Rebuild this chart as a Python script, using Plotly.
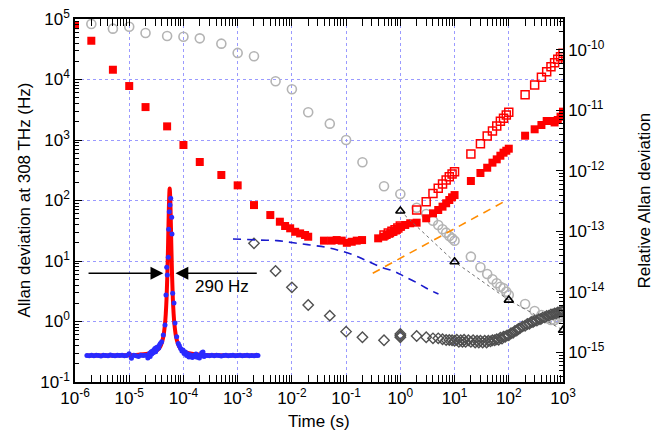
import plotly.graph_objects as go

# ---------------- data ----------------
# Gray open circles (Hz)
gray_tau = [2e-6, 5e-6, 1e-5, 2e-5, 5e-5, 1e-4, 2e-4, 5e-4, 1e-3, 2e-3, 5e-3, 1e-2, 2e-2, 5e-2,
            0.1, 0.2, 0.5, 1, 2, 3, 4, 5, 6, 7, 8, 9, 10,
            20, 30, 40, 50, 60, 70, 80, 90, 100,
            200, 300, 400, 500, 600, 700, 800, 900, 1000]
gray_val = [82600, 69200, 74600, 58700, 52400, 50900, 47900, 39100, 27500, 24200, 9330, 6890, 2870, 1862,
            1000, 428, 172, 128, 76, 59.8, 46.4, 39.4, 33.4, 29.4, 25.9, 23.7, 21.7,
            11.8, 7.87, 6.1, 4.98, 4.28, 3.76, 3.54, 3.11, 2.74,
            1.95, 1.49, 1.28, 1.13, 1.06, 1.06, 1.13, 1.2, 1.25]

# Red filled squares (Hz)
red_fill_tau = [1e-6, 2e-6, 5e-6, 1e-5, 2e-5, 5e-5, 1e-4, 2e-4, 5e-4, 1e-3, 2e-3,
                0.004, 0.006, 0.0075, 0.0093, 0.0115, 0.0142, 0.0175, 0.020,
                0.039, 0.054, 0.067, 0.083, 0.103, 0.127, 0.157, 0.197,
                0.39, 0.49, 0.56, 0.65, 0.75, 0.86, 1.0, 1.23, 1.52,
                2, 3, 4, 5, 6, 7, 8, 9, 10,
                20, 30, 40, 50, 60, 70, 80, 90, 100,
                200, 300, 400, 500, 600, 700, 800, 900, 1000]
red_fill_val = [79000, 43700, 14500, 7800, 3500, 1680, 826, 433, 264, 178, 84,
                57.5, 44.6, 37.9, 34.7, 30.4, 28.6, 26.9, 25.2,
                21.7, 21.7, 22.2, 21.7, 20.0, 20.8, 21.7, 22.2,
                23.7, 25.2, 26.9, 28.7, 30.5, 32.5, 36.9, 39.4, 42,
                43, 50.8, 61.4, 69.7, 79.1, 90, 102, 113, 123,
                210, 285, 348, 422, 479, 550, 617, 665, 718,
                1178, 1503, 1770, 2060, 2060, 1950, 2140, 2430, 2940]

# Red open squares (Hz)
red_open_tau = [0.5, 0.6, 0.7, 0.8, 0.9, 1.0,
                2, 3, 4, 5, 6, 7, 8, 9, 10,
                20, 30, 40, 50, 60, 70, 80, 90, 100,
                200, 300, 400, 500, 600, 700, 800, 900, 1000]
red_open_val = [27, 29, 31, 33, 35, 38,
                69.7, 95.5, 131, 159, 188, 218, 247, 274, 299,
                587, 871, 1164, 1409, 1702, 2037, 2286, 2590, 2870,
                5610, 8110, 10870, 13490, 16290, 18970, 21600, 23800, 27100]

# Dark gray open diamonds (Hz)
dia_tau = [2e-3, 5e-3, 1e-2, 2e-2, 5e-2, 0.1, 0.2, 0.5, 1, 1, 1,
           2, 3, 4, 5, 6, 7, 8, 9,
           10, 11, 12, 13, 14, 15, 16, 18, 20, 22, 24, 26, 28, 30, 33, 36, 39, 42, 46, 50,
           55, 60, 65, 70, 75, 80, 86, 93, 100, 110, 120, 130, 140, 150, 160, 180, 200, 220, 240, 260,
           280, 300, 330, 360, 390, 420, 460, 500, 550, 600, 650, 700, 750, 800, 860, 930, 1000]
dia_val = [19.6, 6.84, 3.67, 1.87, 1.25, 0.68, 0.55, 0.49, 0.62, 0.58, 0.55,
           0.575, 0.548, 0.527, 0.527, 0.508, 0.494, 0.494, 0.49,
           0.48, 0.50, 0.46, 0.49, 0.46, 0.50, 0.46, 0.49, 0.46, 0.49, 0.45, 0.48, 0.45, 0.48, 0.45, 0.48, 0.45, 0.48, 0.47, 0.49,
           0.49, 0.51, 0.50, 0.54, 0.52, 0.56, 0.56, 0.59, 0.59, 0.64, 0.65, 0.70, 0.71, 0.75, 0.77, 0.83, 0.85, 0.91, 0.92, 0.98,
           0.98, 1.03, 1.04, 1.09, 1.10, 1.16, 1.17, 1.23, 1.25, 1.31, 1.31, 1.36, 1.36, 1.41, 1.42, 1.47, 1.49]

# Black open triangles joined by dotted line (Hz)
tri_tau = [1, 10, 100, 1000]
tri_val = [67, 9.7, 2.26, 0.72]

# Blue dashed curve (Hz)
bd_tau = [8.2e-4, 2.6e-3, 5.3e-3, 0.0107, 0.0217, 0.044, 0.0774, 0.136, 0.224, 0.424, 0.80, 1.14, 2.01, 3.30, 5.05]
bd_val = [23.1, 22.2, 21.7, 20.0, 18.4, 16.8, 14.8, 12.6, 10.4, 8.05, 6.65, 5.65, 4.38, 3.40, 2.85]

# Orange dashed line (Hz)
or_tau = [0.31, 86]
or_val = [6.27, 98]

# Inset: beat-note spectrum (offset frequency in Hz, amplitude arb. units)
blue_f = [-5300, -5150, -5000, -4850, -4700, -4550, -4400, -4250, -4100, -3950, -3800, -3650, -3500,
          -3350, -3200, -3050, -2900, -2750, -2600, -2450, -2300, -2150, -2000, -1850, -1700, -1550,
          -1400, -1300, -1250, -1200, -1150, -1100, -1050, -1000, -950, -900, -850, -800, -750, -700, -650, -600,
          -512, -410, -300, -237, -192, -154, -90, -64, -26, 19, 64, 128, 147, 192, 275, 339, 448, 550,
          620, 700, 780, 850, 920, 1000, 1080, 1150, 1230, 1300, 1380, 1450, 1530, 1600, 1680, 1750, 1830,
          1900, 1980, 2050, 2130, 2200, 2280,
          2400, 2550, 2700, 2850, 3000, 3150, 3300, 3450, 3600, 3750, 3900, 4050, 4200, 4350, 4500, 4650,
          4800, 4950, 5100, 5250, 5400, 5550, 5650]
blue_a = [0.050, 0.048, 0.052, 0.049, 0.051, 0.050, 0.047, 0.052, 0.050, 0.049, 0.053, 0.050, 0.048,
          0.051, 0.050, 0.052, 0.049, 0.050, 0.060, 0.034, 0.051, 0.049, 0.044, 0.052, 0.050, 0.051,
          0.036, 0.062, 0.045, 0.070, 0.058, 0.075, 0.066, 0.082, 0.090, 0.072, 0.095, 0.085, 0.100, 0.093, 0.110, 0.118,
          0.128, 0.167, 0.224, 0.394, 0.552, 0.508, 0.609, 0.768, 0.868, 0.906, 0.944, 0.836, 0.741, 0.404, 0.349, 0.235, 0.157, 0.119,
          0.105, 0.090, 0.075, 0.082, 0.062, 0.070, 0.050, 0.060, 0.042, 0.055, 0.047, 0.038, 0.052, 0.044, 0.058, 0.040, 0.050,
          0.036, 0.048, 0.065, 0.070, 0.045, 0.050,
          0.050, 0.048, 0.051, 0.049, 0.052, 0.050, 0.047, 0.050, 0.052, 0.049, 0.050, 0.051, 0.048, 0.050, 0.052, 0.049,
          0.050, 0.051, 0.048, 0.050, 0.049, 0.051, 0.050]
fit_f = [-5300, -3000, -2000, -1500, -1000, -800, -600, -500, -400, -300, -250, -200, -150, -100, -50, 0,
         50, 100, 150, 200, 250, 300, 400, 500, 600, 800, 1000, 1500, 2000, 3000, 5650]
fit_a = [0.050, 0.052, 0.055, 0.059, 0.070, 0.080, 0.102, 0.124, 0.160, 0.230, 0.289, 0.377, 0.509, 0.694, 0.899, 1.0,
         0.899, 0.694, 0.509, 0.377, 0.289, 0.230, 0.160, 0.124, 0.102, 0.080, 0.070, 0.059, 0.055, 0.052, 0.050]
fwhm_label = "290 Hz"
arrow_level = 0.518
arrow_left = (-5290, -410)   # tail, tip
arrow_right = (5670, 371)

# tick labels
x_ticks = [1e-6, 1e-5, 1e-4, 1e-3, 1e-2, 1e-1, 1, 10, 100, 1000]
x_text = ["10<sup>-6</sup>", "10<sup>-5</sup>", "10<sup>-4</sup>", "10<sup>-3</sup>", "10<sup>-2</sup>",
          "10<sup>-1</sup>", "10<sup>0</sup>", "10<sup>1</sup>", "10<sup>2</sup>", "10<sup>3</sup>"]
y_ticks = [0.1, 1, 10, 100, 1000, 1e4, 1e5]
y_text = ["10<sup>-1</sup>", "10<sup>0</sup>", "10<sup>1</sup>", "10<sup>2</sup>", "10<sup>3</sup>",
          "10<sup>4</sup>", "10<sup>5</sup>"]
y2_ticks = [1e-15, 1e-14, 1e-13, 1e-12, 1e-11, 1e-10]
y2_text = ["10<sup>-15</sup>", "10<sup>-14</sup>", "10<sup>-13</sup>", "10<sup>-12</sup>",
           "10<sup>-11</sup>", "10<sup>-10</sup>"]

# ---------------- figure ----------------
FONT = "Arial, Liberation Sans, sans-serif"
fig = go.Figure()

fig.add_trace(go.Scatter(x=gray_tau, y=gray_val, mode="markers",
                         marker=dict(symbol="circle-open", size=9, color="#b4b4b4", line=dict(width=1.6))))
fig.add_trace(go.Scatter(x=dia_tau, y=dia_val, mode="markers",
                         marker=dict(symbol="diamond-open", size=8, color="#505050", line=dict(width=1.4))))
fig.add_trace(go.Scatter(x=red_fill_tau, y=red_fill_val, mode="markers",
                         marker=dict(symbol="square", size=8, color="#ff0000")))
fig.add_trace(go.Scatter(x=red_open_tau, y=red_open_val, mode="markers",
                         marker=dict(symbol="square-open", size=8, color="#ff0000", line=dict(width=1.5))))
fig.add_trace(go.Scatter(x=tri_tau, y=tri_val, mode="lines+markers",
                         line=dict(color="#707070", width=1, dash="dot"),
                         marker=dict(symbol="triangle-up-open", size=8, color="#000000", line=dict(width=1.6))))
fig.add_trace(go.Scatter(x=bd_tau, y=bd_val, mode="lines", line=dict(color="#1a1acc", width=1.6, dash="8px,6px"),
                         line_shape="spline"))
fig.add_trace(go.Scatter(x=or_tau, y=or_val, mode="lines", line=dict(color="#ff8c00", width=1.6, dash="8px,6px")))
# dummy trace to register right axis
fig.add_trace(go.Scatter(x=[], y=[], yaxis="y2", showlegend=False))

# inset
fig.add_trace(go.Scatter(x=fit_f, y=fit_a, xaxis="x3", yaxis="y3", mode="lines",
                         line=dict(color="#ff0000", width=4), line_shape="spline"))
fig.add_trace(go.Scatter(x=blue_f, y=blue_a, xaxis="x3", yaxis="y3", mode="markers",
                         marker=dict(size=5, color="#2a2aff")))

minor_x = [m * 10.0 ** e for e in range(-6, 3) for m in range(2, 10)]
minor_y = [m * 10.0 ** e for e in range(-1, 5) for m in range(2, 10)]
minor_y2 = [m * 10.0 ** e for e in range(-16, -9) for m in range(2, 10)]

axis_common = dict(showline=True, linecolor="black", linewidth=1.5, ticks="inside", ticklen=7,
                   tickwidth=1.2, tickcolor="black", automargin=False,
                   tickfont=dict(family=FONT, size=17, color="black"), zeroline=False)
grid = dict(showgrid=True, gridcolor="#9a9aff", gridwidth=1, griddash="dot")

fig.update_layout(
    template="none",
    width=667, height=435,
    margin=dict(l=75, r=104, t=19, b=53, autoexpand=False),
    paper_bgcolor="white", plot_bgcolor="rgba(0,0,0,0)",
    showlegend=False,
    font=dict(family=FONT, color="black"),
    xaxis=dict(type="log", range=[-6, 3], tickmode="array", tickvals=x_ticks, ticktext=x_text,
               mirror="allticks",
               minor=dict(tickmode="array", tickvals=minor_x, ticks="inside", ticklen=4, tickcolor="black",
                          tickwidth=1, showgrid=False),
               **axis_common, **grid),
    yaxis=dict(type="log", range=[-1, 5], tickmode="array", tickvals=y_ticks, ticktext=y_text,
               minor=dict(tickmode="array", tickvals=minor_y, ticks="inside", ticklen=4, tickcolor="black",
                          tickwidth=1, showgrid=False),
               **axis_common, **grid),
    yaxis2=dict(type="log", overlaying="y", side="right", anchor="x",
                range=[-1 - 14.488550716, 5 - 14.488550716],
                tickmode="array", tickvals=y2_ticks, ticktext=y2_text, showgrid=False,
                minor=dict(tickmode="array", tickvals=minor_y2, ticks="inside", ticklen=4, tickcolor="black",
                           tickwidth=1, showgrid=False),
                **axis_common),
    xaxis3=dict(domain=[0.01025, 0.3893], anchor="y3", range=[-5741, 6099], visible=False, showgrid=False),
    yaxis3=dict(domain=[0.04683, 0.5427], anchor="x3", range=[-0.004, 1.02], visible=False, showgrid=False),
)

annotations = [
    dict(x=arrow_left[1], y=arrow_level, ax=arrow_left[0], ay=arrow_level, xref="x3", yref="y3",
         axref="x3", ayref="y3", text="", showarrow=True, arrowhead=2, arrowsize=1.6, arrowwidth=1.6,
         arrowcolor="black"),
    dict(x=arrow_right[1], y=arrow_level, ax=arrow_right[0], ay=arrow_level, xref="x3", yref="y3",
         axref="x3", ayref="y3", text="", showarrow=True, arrowhead=2, arrowsize=1.6, arrowwidth=1.6,
         arrowcolor="black"),
    dict(x=3328, y=0.441, xref="x3", yref="y3", text=fwhm_label, showarrow=False,
         font=dict(family=FONT, size=17, color="black"), xanchor="center", yanchor="middle"),
    dict(x=-0.1045, y=0.5, xref="paper", yref="paper", text="Allan deviation at 308 THz (Hz)",
         textangle=-90, showarrow=False, font=dict(family=FONT, size=17, color="black"),
         xanchor="center", yanchor="middle"),
    dict(x=1.168, y=0.5, xref="paper", yref="paper", text="Relative Allan deviation",
         textangle=-90, showarrow=False, font=dict(family=FONT, size=17, color="black"),
         xanchor="center", yanchor="middle"),
    dict(x=0.5, y=-0.109, xref="paper", yref="paper", text="Time (s)",
         showarrow=False, font=dict(family=FONT, size=17, color="black"),
         xanchor="center", yanchor="middle"),
]
fig.update_layout(annotations=annotations)

fig.write_html("out.html", config={"displayModeBar": False},
               post_script="document.body.style.margin='0px';")
